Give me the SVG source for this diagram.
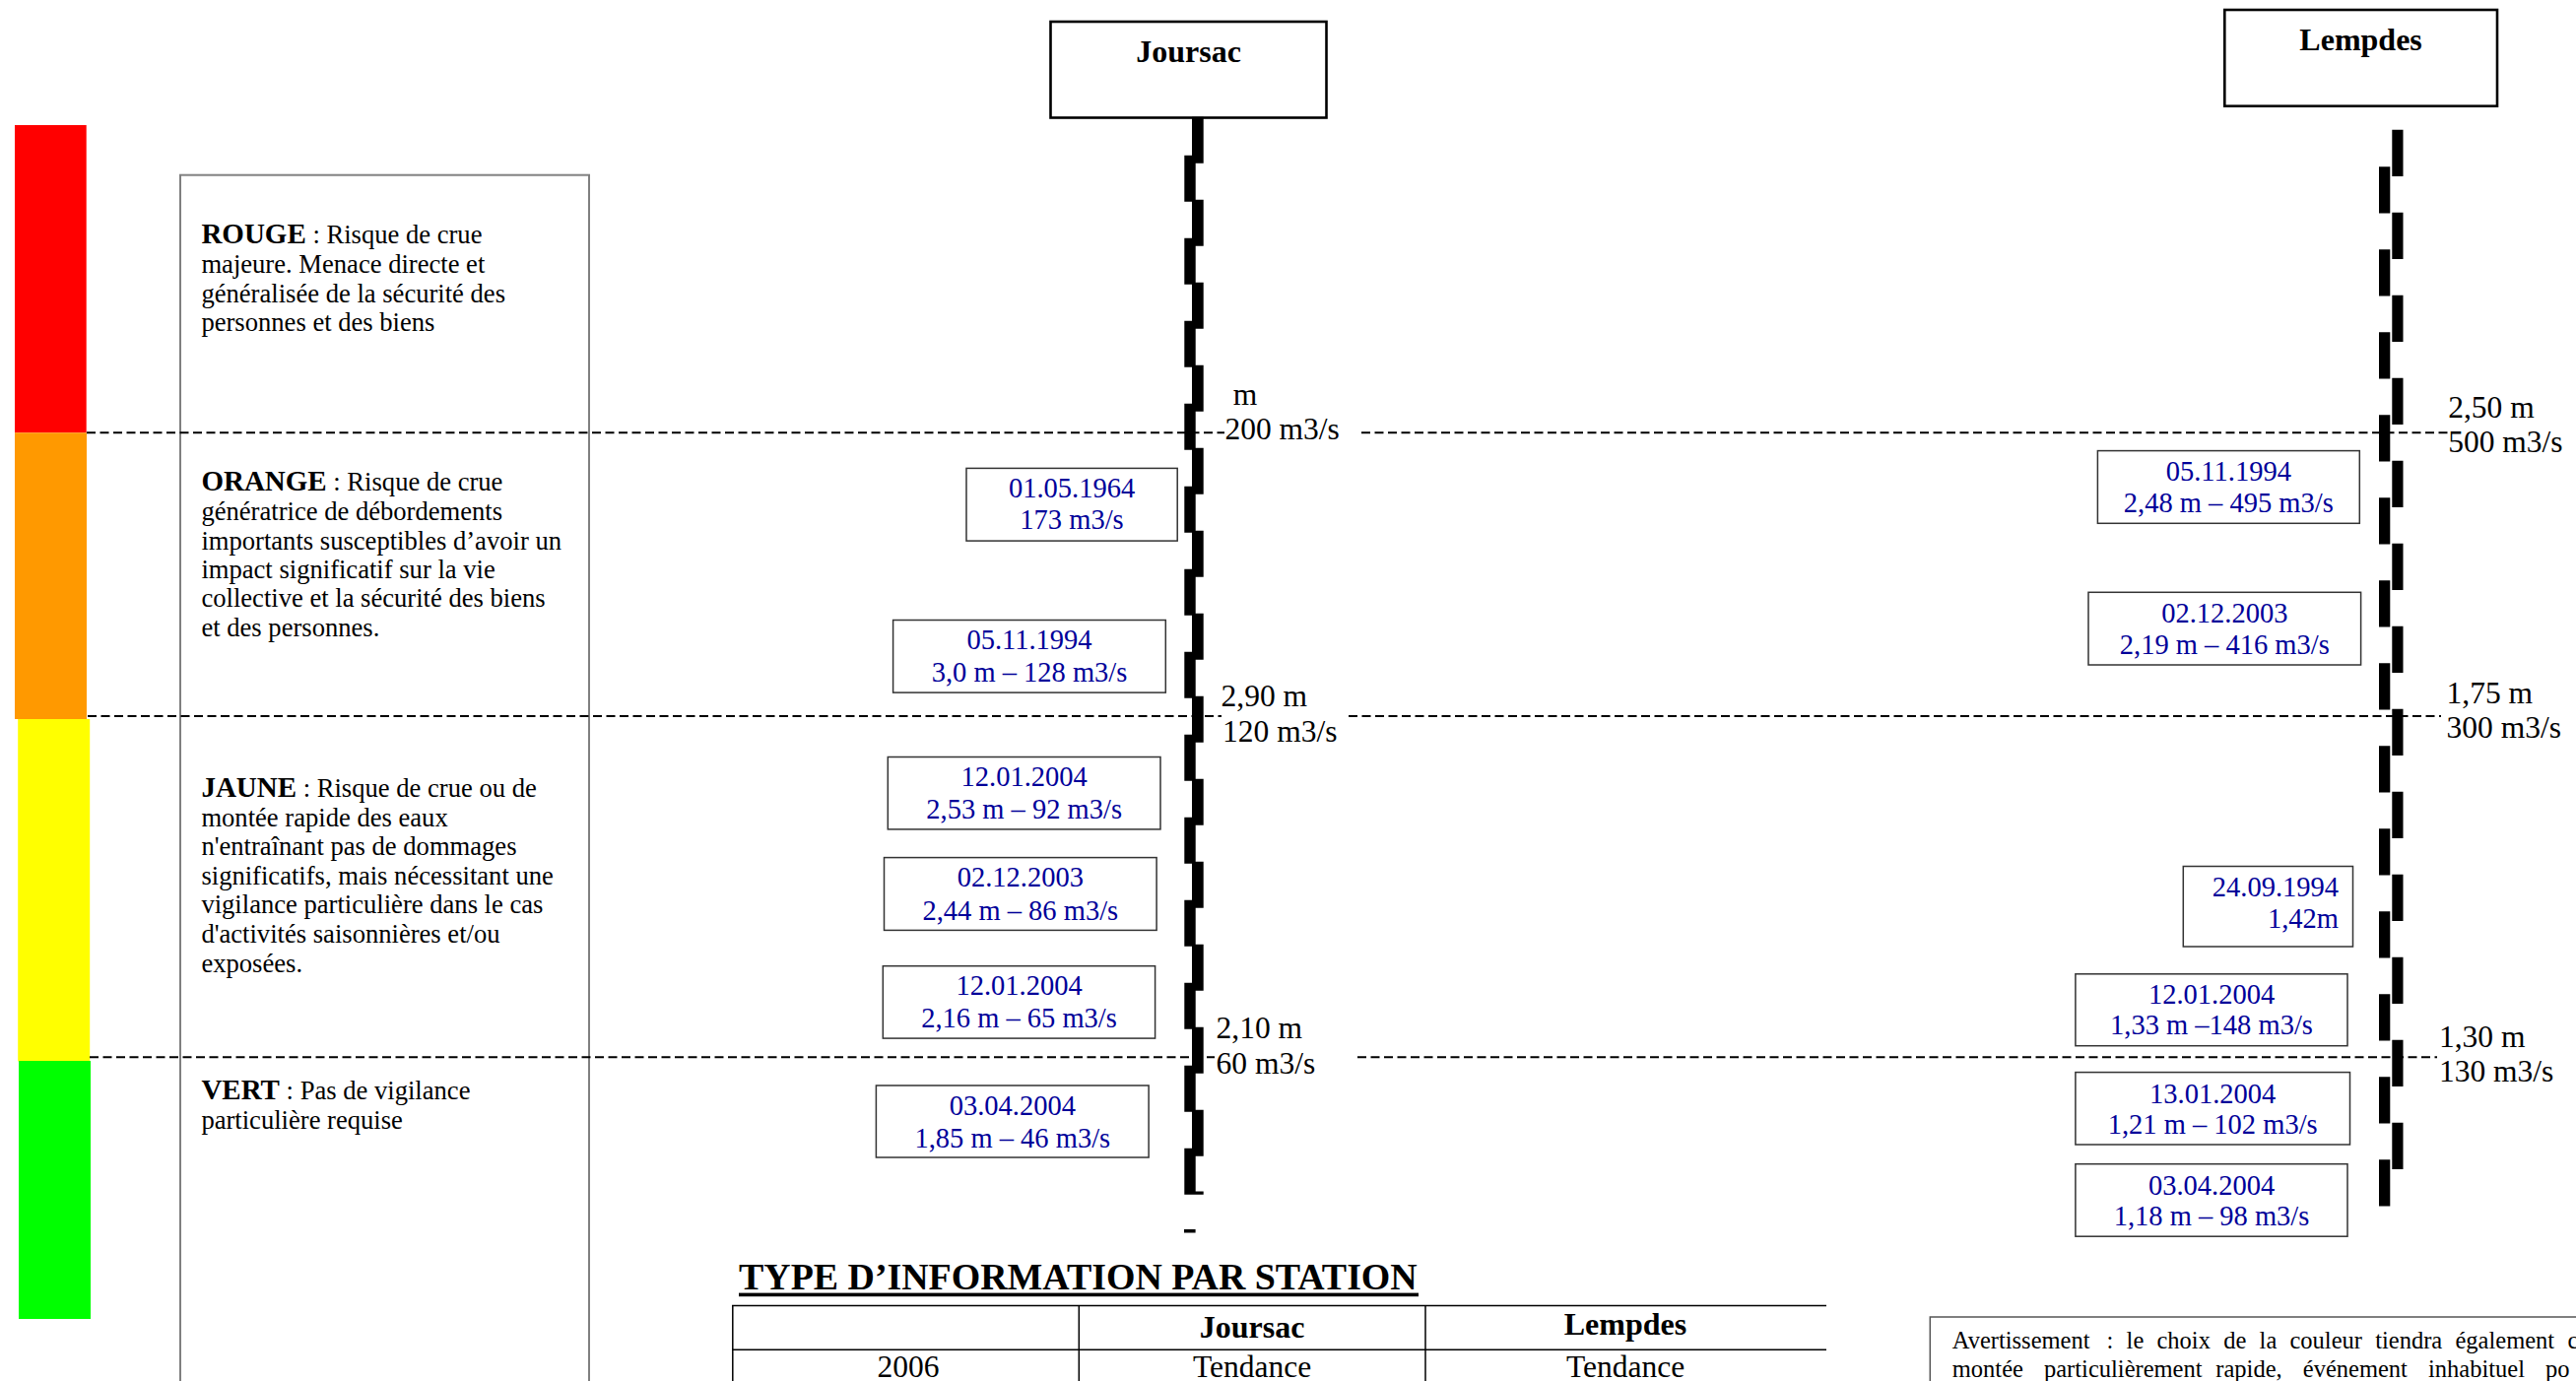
<svg xmlns="http://www.w3.org/2000/svg" width="2615" height="1402" viewBox="0 0 2615 1402">
  <style>
    text { font-family: "Liberation Serif", "Times New Roman", serif; fill: #000; }
    .lg { font-size: 26.6px; }
    .b { font-weight: bold; }
    .lgb { font-weight: bold; font-size: 29px; }
    .ev { font-size: 28.5px; fill: #000099; text-anchor: middle; }
    .evr { font-size: 28.5px; fill: #000099; text-anchor: end; }
    .evbox { fill: #fff; stroke: #333; stroke-width: 1.5; }
    .lvl { font-size: 31.5px; }
    .st { font-size: 32px; font-weight: bold; text-anchor: middle; }
    .stbox { fill: #fff; stroke: #000; stroke-width: 2.6; }
    .dash { fill: none; stroke: #000; stroke-width: 2; stroke-dasharray: 9 4.5; }
    .tbl { fill: none; stroke: #000; stroke-width: 1.5; }
    .tc { font-size: 31.5px; text-anchor: middle; }
    .note { font-size: 24.5px; }
    .ladder { fill: #000; }
  </style>

  <!-- colour scale -->
  <g id="colour-scale">
    <rect x="15" y="127" width="72.7" height="312.3" fill="#ff0000"/>
    <rect x="15" y="439.3" width="73" height="290.7" fill="#ff9900"/>
    <rect x="18.2" y="730" width="73" height="347.4" fill="#ffff00"/>
    <rect x="19" y="1077" width="73" height="262" fill="#00ff00"/>
  </g>

  <!-- legend box -->
  <g id="legend">
    <rect x="183" y="177.7" width="415" height="1260" fill="#fff" stroke="#808080" stroke-width="2"/>
    <text class="lg">
      <tspan x="204.4" y="247.3"><tspan class="lgb">ROUGE</tspan> : Risque de crue</tspan>
      <tspan x="204.4" y="277">majeure. Menace directe et</tspan>
      <tspan x="204.4" y="306.6">généralisée de la sécurité des</tspan>
      <tspan x="204.4" y="336">personnes et des biens</tspan>
    </text>
    <text class="lg">
      <tspan x="204.4" y="498.3"><tspan class="lgb">ORANGE</tspan> : Risque de crue</tspan>
      <tspan x="204.4" y="528">génératrice de débordements</tspan>
      <tspan x="204.4" y="558">importants susceptibles d’avoir un</tspan>
      <tspan x="204.4" y="587">impact significatif sur la vie</tspan>
      <tspan x="204.4" y="616">collective et la sécurité des biens</tspan>
      <tspan x="204.4" y="645.5">et des personnes.</tspan>
    </text>
    <text class="lg">
      <tspan x="204.4" y="809"><tspan class="lgb">JAUNE</tspan> : Risque de crue ou de</tspan>
      <tspan x="204.4" y="839">montée rapide des eaux</tspan>
      <tspan x="204.4" y="868">n'entraînant pas de dommages</tspan>
      <tspan x="204.4" y="898">significatifs, mais nécessitant une</tspan>
      <tspan x="204.4" y="927">vigilance particulière dans le cas</tspan>
      <tspan x="204.4" y="956.5">d'activités saisonnières et/ou</tspan>
      <tspan x="204.4" y="986.5">exposées.</tspan>
    </text>
    <text class="lg">
      <tspan x="204.4" y="1115.5"><tspan class="lgb">VERT</tspan> : Pas de vigilance</tspan>
      <tspan x="204.4" y="1146">particulière requise</tspan>
    </text>
  </g>

  <!-- threshold lines -->
  <g id="connectors">
    <path class="dash" d="M88 439.3H1243M1382 439.3H2485"/>
    <path class="dash" d="M89 727H1240M1369 727H2478"/>
    <path class="dash" d="M91 1073.3H1233M1378 1073.3H2474"/>
  </g>

  <!-- Joursac station -->
  <g id="station-joursac">
    <rect class="stbox" x="1066.5" y="22" width="280" height="97.5"/>
    <text class="st" x="1206.5" y="63.3">Joursac</text>
    <path class="ladder" d="M1210 118.7h11.7v47h-11.7zM1210 202.7h11.7v47h-11.7zM1210 286.7h11.7v47h-11.7zM1210 370.7h11.7v47h-11.7zM1210 454.7h11.7v47h-11.7zM1210 538.7h11.7v47h-11.7zM1210 622.7h11.7v47h-11.7zM1210 706.7h11.7v47h-11.7zM1210 790.7h11.7v47h-11.7zM1210 874.7h11.7v47h-11.7zM1210 958.7h11.7v47h-11.7zM1210 1042.7h11.7v47h-11.7zM1210 1126.7h11.7v47h-11.7z
      M1202.3 157.7h11.4v47h-11.4zM1202.3 241.7h11.4v47h-11.4zM1202.3 325.7h11.4v47h-11.4zM1202.3 409.7h11.4v47h-11.4zM1202.3 493.7h11.4v47h-11.4zM1202.3 577.7h11.4v47h-11.4zM1202.3 661.7h11.4v47h-11.4zM1202.3 745.7h11.4v47h-11.4zM1202.3 829.7h11.4v47h-11.4zM1202.3 913.7h11.4v47h-11.4zM1202.3 997.7h11.4v47h-11.4zM1202.3 1081.7h11.4v47h-11.4zM1202.3 1165.7h11.4v47h-11.4z
      M1202.3 1209.5h19.4v3.2h-19.4z M1202 1248h11.6v3.5h-11.6z"/>
    <text class="lvl"><tspan x="1251.7" y="410.5">m</tspan><tspan x="1243.4" y="446.4">200 m3/s</tspan></text>
    <text class="lvl"><tspan x="1239.6" y="716.5">2,90 m</tspan><tspan x="1241" y="752.8">120 m3/s</tspan></text>
    <text class="lvl"><tspan x="1234.6" y="1053.7">2,10 m</tspan><tspan x="1234.6" y="1089.5">60 m3/s</tspan></text>
  </g>

  <!-- Joursac events -->
  <g id="j-1964">
    <rect class="evbox" x="981" y="475.4" width="214.2" height="73.7"/>
    <text class="ev"><tspan x="1088" y="505.4">01.05.1964</tspan><tspan x="1088" y="537">173 m3/s</tspan></text>
  </g>
  <g id="j-1994">
    <rect class="evbox" x="906.6" y="629.5" width="276.7" height="73.6"/>
    <text class="ev"><tspan x="1045" y="659.4">05.11.1994</tspan><tspan x="1045" y="692">3,0 m – 128 m3/s</tspan></text>
  </g>
  <g id="j-2004a">
    <rect class="evbox" x="901.3" y="768.5" width="276.7" height="73.4"/>
    <text class="ev"><tspan x="1039.7" y="797.6">12.01.2004</tspan><tspan x="1039.7" y="830.7">2,53 m – 92 m3/s</tspan></text>
  </g>
  <g id="j-2003">
    <rect class="evbox" x="897.5" y="870.6" width="276.6" height="73.8"/>
    <text class="ev"><tspan x="1035.8" y="900.1">02.12.2003</tspan><tspan x="1035.8" y="933.7">2,44 m – 86 m3/s</tspan></text>
  </g>
  <g id="j-2004b">
    <rect class="evbox" x="896.3" y="980.7" width="276.3" height="73.4"/>
    <text class="ev"><tspan x="1034.5" y="1010.3">12.01.2004</tspan><tspan x="1034.5" y="1042.5">2,16 m – 65 m3/s</tspan></text>
  </g>
  <g id="j-2004c">
    <rect class="evbox" x="889.4" y="1102" width="276.7" height="73"/>
    <text class="ev"><tspan x="1027.8" y="1132">03.04.2004</tspan><tspan x="1027.8" y="1164.7">1,85 m – 46 m3/s</tspan></text>
  </g>

  <!-- Lempdes station -->
  <g id="station-lempdes">
    <rect class="stbox" x="2258.3" y="10" width="276.7" height="97.7"/>
    <text class="st" x="2396.6" y="50.7">Lempdes</text>
    <path class="ladder" d="M2428.3 131.7h11.2v47.3h-11.2zM2428.3 215.7h11.2v47.3h-11.2zM2428.3 299.7h11.2v47.3h-11.2zM2428.3 383.7h11.2v47.3h-11.2zM2428.3 467.7h11.2v47.3h-11.2zM2428.3 551.7h11.2v47.3h-11.2zM2428.3 635.7h11.2v47.3h-11.2zM2428.3 719.7h11.2v47.3h-11.2zM2428.3 803.7h11.2v47.3h-11.2zM2428.3 887.7h11.2v47.3h-11.2zM2428.3 971.7h11.2v47.3h-11.2zM2428.3 1055.7h11.2v47.3h-11.2zM2428.3 1139.7h11.2v47.3h-11.2z
      M2415 169.3h11.3v47.3h-11.3zM2415 253.3h11.3v47.3h-11.3zM2415 337.3h11.3v47.3h-11.3zM2415 421.3h11.3v47.3h-11.3zM2415 505.3h11.3v47.3h-11.3zM2415 589.3h11.3v47.3h-11.3zM2415 673.3h11.3v47.3h-11.3zM2415 757.3h11.3v47.3h-11.3zM2415 841.3h11.3v47.3h-11.3zM2415 925.3h11.3v47.3h-11.3zM2415 1009.3h11.3v47.3h-11.3zM2415 1093.3h11.3v47.3h-11.3zM2415 1177.3h11.3v47.3h-11.3z"/>
    <text class="lvl"><tspan x="2485.2" y="424.1">2,50 m</tspan><tspan x="2485.2" y="458.9">500 m3/s</tspan></text>
    <text class="lvl"><tspan x="2483.5" y="713.7">1,75 m</tspan><tspan x="2483.5" y="749.2">300 m3/s</tspan></text>
    <text class="lvl"><tspan x="2475.9" y="1062.6">1,30 m</tspan><tspan x="2475.9" y="1097.6">130 m3/s</tspan></text>
  </g>

  <!-- Lempdes events -->
  <g id="l-1994">
    <rect class="evbox" x="2129.4" y="457.6" width="265.9" height="73.7"/>
    <text class="ev"><tspan x="2262.3" y="488">05.11.1994</tspan><tspan x="2262.3" y="520">2,48 m – 495 m3/s</tspan></text>
  </g>
  <g id="l-2003">
    <rect class="evbox" x="2120" y="601.3" width="276.6" height="73.7"/>
    <text class="ev"><tspan x="2258.3" y="631.7">02.12.2003</tspan><tspan x="2258.3" y="664.3">2,19 m – 416 m3/s</tspan></text>
  </g>
  <g id="l-1994b">
    <rect class="evbox" x="2216.3" y="879.5" width="172.2" height="81.5"/>
    <text class="evr"><tspan x="2374" y="909.5">24.09.1994</tspan><tspan x="2374" y="941.8">1,42m</tspan></text>
  </g>
  <g id="l-2004a">
    <rect class="evbox" x="2106.9" y="988.8" width="276.1" height="72.9"/>
    <text class="ev"><tspan x="2245" y="1018.8">12.01.2004</tspan><tspan x="2245" y="1050.1">1,33 m –148 m3/s</tspan></text>
  </g>
  <g id="l-2004b">
    <rect class="evbox" x="2106.9" y="1088.6" width="278.6" height="73.4"/>
    <text class="ev"><tspan x="2246.2" y="1119.5">13.01.2004</tspan><tspan x="2246.2" y="1151.3">1,21 m – 102 m3/s</tspan></text>
  </g>
  <g id="l-2004c">
    <rect class="evbox" x="2106.9" y="1181.7" width="276.1" height="73.5"/>
    <text class="ev"><tspan x="2245" y="1212.6">03.04.2004</tspan><tspan x="2245" y="1244">1,18 m – 98 m3/s</tspan></text>
  </g>

  <!-- information type table -->
  <g id="info-table">
    <text class="b" x="750" y="1309" style="font-size:37.9px">TYPE D’INFORMATION PAR STATION</text>
    <rect x="750" y="1312.6" width="690" height="3.6" fill="#000"/>
    <path class="tbl" d="M743 1325.4H1854M743 1370.2H1854M743.8 1325.4V1402M1095.3 1325.4V1402M1447 1325.4V1402"/>
    <text class="st" x="1271" y="1358">Joursac</text>
    <text class="st" x="1650" y="1354.7">Lempdes</text>
    <text class="tc" x="922" y="1398">2006</text>
    <text class="tc" x="1271" y="1398">Tendance</text>
    <text class="tc" x="1650" y="1398">Tendance</text>
  </g>

  <!-- warning note (justified paragraph, runs past the page edge) -->
  <g id="warning">
    <rect x="1959.3" y="1337" width="700" height="120" fill="#fff" stroke="#555" stroke-width="1.5"/>
    <text class="note">
      <tspan x="1981.8" y="1369">Avertissement</tspan><tspan x="2138.5">:</tspan><tspan x="2158.6">le</tspan><tspan x="2189.5">choix</tspan><tspan x="2257.2">de</tspan><tspan x="2293.6">la</tspan><tspan x="2324.5">couleur</tspan><tspan x="2411.2">tiendra</tspan><tspan x="2492.5">également</tspan><tspan x="2606.4">c</tspan>
    </text>
    <text class="note">
      <tspan x="1981.8" y="1398">montée</tspan><tspan x="2075">particulièrement</tspan><tspan x="2249.3">rapide,</tspan><tspan x="2337.8">événement</tspan><tspan x="2465">inhabituel</tspan><tspan x="2584.1">po</tspan>
    </text>
  </g>
</svg>
